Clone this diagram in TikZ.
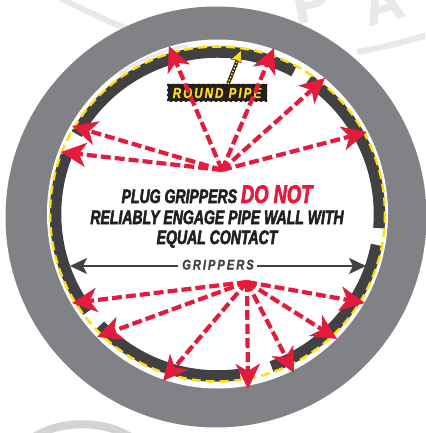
\documentclass[tikz,border=0pt]{standalone}
\usepackage{fontspec}
\usetikzlibrary{arrows.meta,calc}
\setmainfont{Liberation Sans}
\newfontfamily\heavy[FakeStretch=0.72,FakeBold=2.6]{Liberation Sans Bold Italic}
\newfontfamily\labelfont[FakeStretch=0.8,LetterSpace=14,FakeBold=1.2]{Liberation Sans Bold Italic}
\newfontfamily\markfont[FakeBold=2]{Liberation Sans Bold}
\definecolor{pipegray}{HTML}{808285}
\definecolor{band}{HTML}{414042}
\definecolor{ink}{HTML}{231F20}
\definecolor{hot}{HTML}{E31B3C}
\definecolor{amber}{HTML}{FFDD15}
\definecolor{wmark}{HTML}{E8E9E9}
\definecolor{wmarkb}{HTML}{D1D3D4}
\tikzset{
  redarrow/.style={draw=hot,line width=4.2pt,dash pattern=on 10pt off 4pt,
    -{Stealth[length=25pt,width=24pt,inset=7pt,color=hot]}},
  grayarrow/.style={draw=band,line width=1.6pt,-{Stealth[length=17pt,width=16pt,inset=4pt]}},
  heavytext/.style={text=ink,inner sep=0pt,anchor=base},
  markletter/.style={text=wmark,font=\markfont\fontsize{55}{55}\selectfont,inner sep=0pt,anchor=base west},
}
\begin{document}
\begin{tikzpicture}[x=1pt,y=-1pt]
\useasboundingbox (0,0) rectangle (425,433);
\fill[white] (0,0) rectangle (425,433);
% watermark
\begin{scope}
\clip (0,0) rectangle (425,433);
\draw[wmark,line width=6pt] (357,52) .. controls (385,47) and (405,42) .. (430,34);
\draw[wmark,line width=6pt] (60,-2) .. controls (80,8) and (105,20) .. (130,30);
\draw[wmarkb,line width=8pt] (30,440) .. controls (55,420) and (105,418) .. (135,440);
\node[markletter,rotate=10] (mp) at (296,24) {P};
\node[markletter,rotate=15] (ma) at (368,26) {A};
\end{scope}
% pipe
\fill[pipegray] (216,217) circle [radius=210.5];
\fill[white] (217.5,214) ellipse [x radius=170.5,y radius=174.5];
\draw[wmark,line width=3pt] ({217.5+171*cos(125)},{214-171*sin(125)}) arc [start angle=-125,end angle=-100,radius=171];
% band
\def\bandarc#1#2{\draw[band,line width=11.5pt] ({217.5+162*cos(#1)},{214-162*sin(#1)}) arc [start angle=-#1,end angle=-#2,radius=162];}
\bandarc{-70.5}{-11}
\bandarc{-5}{55.8}
\bandarc{61.8}{150.4}
\bandarc{157.8}{217}
\bandarc{223.5}{278}
\draw[amber,line width=2.5pt,dash pattern=on 9pt off 5pt] (217.5,214) ++(167.5,0) arc [start angle=0,end angle=360,radius=167.5];
% label
\node[draw=amber,densely dashed,line width=1pt,fill=ink,minimum width=100pt,minimum height=18pt,inner sep=0pt] (tag) at (217,93) {};
\node[text=amber,font=\labelfont\fontsize{14.5}{14}\selectfont,inner sep=0pt] (tagtext) at (tag.center) {ROUND PIPE};
\coordinate (tagtip) at (241.5,50);
\coordinate (tagfoot) at (228,84);
\draw[ink,line width=3.6pt] (tagfoot) -- ($(tagfoot)!0.8!(tagtip)$);
\draw[amber,line width=1.6pt,dash pattern=on 1.6pt off 1.6pt] (tagfoot) -- ($(tagfoot)!0.8!(tagtip)$);
\filldraw[fill=amber,draw=ink,line width=.4pt] (tagtip) -- (231,59) -- (236,60) -- (241,63) -- cycle;
% text
\node[heavytext,font=\heavy\fontsize{19.5}{18}\selectfont] (t1) at (217,203) {PLUG GRIPPERS \textcolor{hot}{\fontsize{25.5}{18}\selectfont DO NOT}};
\node[heavytext,font=\heavy\fontsize{19.5}{18}\selectfont] (t2) at (217,224) {RELIABLY ENGAGE PIPE WALL WITH};
\node[heavytext,font=\heavy\fontsize{19.5}{18}\selectfont] (t3) at (217,244) {EQUAL CONTACT};
\node[heavytext,text=band,font=\labelfont\fontsize{14}{13}\selectfont] (gripperlabel) at (218,269.5) {GRIPPERS};
\coordinate (leftend) at (70,266);
\coordinate (rightend) at (366,266);
\coordinate (gl) at (178,266);
\coordinate (gr) at (257,266);
\draw[grayarrow] (gl) -- (leftend);
\draw[grayarrow] (gr) -- (rightend);
% red arrows
\coordinate (up) at (222,170);
\coordinate (low) at (247,282);
\coordinate (ra) at (169,46);
\coordinate (rb) at (274,48);
\coordinate (rc) at (325,78);
\coordinate (rd) at (367,132);
\coordinate (re) at (72,126);
\coordinate (rf) at (61,152);
\coordinate (rg) at (365,303);
\coordinate (rh) at (337,339);
\coordinate (ri) at (294,373);
\coordinate (rj) at (248,389);
\coordinate (rk) at (163,381);
\coordinate (rl) at (97,337);
\coordinate (rm) at (72,303);
\draw[redarrow] (up) -- (ra);
\draw[redarrow] (up) -- (rb);
\draw[redarrow] (up) -- (rc);
\draw[redarrow] (up) -- (rd);
\draw[redarrow] (up) -- (re);
\draw[redarrow] (up) -- (rf);
\draw[redarrow] (low) -- (rg);
\draw[redarrow] (low) -- (rh);
\draw[redarrow] (low) -- (ri);
\draw[redarrow] (low) -- (rj);
\draw[redarrow] (low) -- (rk);
\draw[redarrow] (low) -- (rl);
\draw[redarrow] (low) -- (rm);
\end{tikzpicture}
\end{document}
